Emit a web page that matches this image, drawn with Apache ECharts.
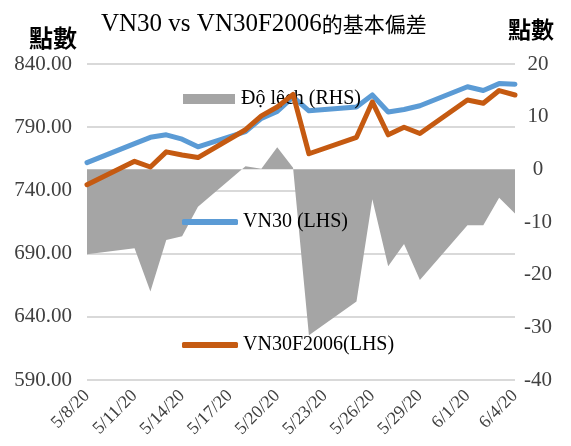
<!DOCTYPE html>
<html>
<head>
<meta charset="utf-8">
<script src="https://cdn.jsdelivr.net/npm/echarts@6/dist/echarts.min.js"></script>
<style>html,body{margin:0;padding:0;background:#fff}#c{width:571px;height:446px}</style>
</head>
<body>
<div id="c"></div>
<script>
const dates = ['2020-05-08','2020-05-11','2020-05-12','2020-05-13','2020-05-14','2020-05-15','2020-05-18','2020-05-19','2020-05-20','2020-05-21','2020-05-22','2020-05-25','2020-05-26','2020-05-27','2020-05-28','2020-05-29','2020-06-01','2020-06-02','2020-06-03','2020-06-04'];
const vn30 = [762, 777, 782, 784, 780.5, 774.5, 786.5, 797, 802.5, 814, 803, 806, 815.5, 802, 804, 807, 822, 819, 824.5, 824];
const vn30f = [744.5, 763, 758.5, 770.5, 768, 766, 788, 799, 806, 816, 769, 782, 810, 784, 790, 785, 811.5, 809, 819, 815.5];
const deviation = [-16.1, -15, -23.2, -13.4, -12.7, -7.1, 0.6, 0.1, 4.2, 0.3, -31.5, -25.1, -5.7, -18.4, -14.2, -21, -10.6, -10.6, -5.4, -8.4];
const tickLabels = ['5/8/20','5/11/20','5/14/20','5/17/20','5/20/20','5/23/20','5/26/20','5/29/20','6/1/20','6/4/20'];
const seriesNames = ['Độ lệch (RHS)', 'VN30 (LHS)', 'VN30F2006(LHS)'];
const titleLatin = 'VN30 vs VN30F2006';
const titleCJK = '的基本偏差';
const axisName = '點數';

const DAY = 86400000;
const t0 = Date.parse(dates[0]);
const dayIdx = dates.map(d => Math.round((Date.parse(d) - t0) / DAY));
const pair = arr => arr.map((v, i) => [dayIdx[i], v]);

const serif = '"Liberation Serif", "Times New Roman", serif';
const chart = echarts.init(document.getElementById('c'), null, {renderer: 'canvas'});
chart.setOption({
  animation: false,
  backgroundColor: '#fff',
  title: {
    text: '{a|' + titleLatin + '}{b|' + titleCJK + '}',
    left: 96, top: 7,
    textStyle: {
      fontWeight: 'normal',
      rich: {
        a: {fontFamily: serif, fontSize: 25, fontWeight: 'normal', color: '#000'},
        b: {fontFamily: '"Noto Sans CJK TC"', fontSize: 21, fontWeight: 'normal', color: '#000'}
      }
    }
  },
  graphic: [
    {type: 'text', left: 29, top: 26, style: {text: axisName, font: 'bold 24px "Noto Sans CJK TC"', fill: '#000'}},
    {type: 'text', left: 508, top: 18, style: {text: axisName, font: 'bold 23px "Noto Sans CJK TC"', fill: '#000'}}
  ],
  legend: [
    {data: [seriesNames[0]], left: 178, top: 84, icon: 'rect', itemWidth: 52, itemHeight: 10, itemGap: 0,
     textStyle: {fontFamily: serif, fontSize: 20, color: '#000', padding: [0,0,0,1]}},
    {data: [seriesNames[1]], left: 177, top: 207, icon: 'roundRect', itemWidth: 56, itemHeight: 6,
     textStyle: {fontFamily: serif, fontSize: 20, color: '#000'}},
    {data: [seriesNames[2]], left: 177, top: 330, icon: 'roundRect', itemWidth: 56, itemHeight: 6,
     textStyle: {fontFamily: serif, fontSize: 20, color: '#000'}}
  ],
  grid: {left: 87, right: 56, top: 64, bottom: 66, containLabel: false},
  xAxis: {
    type: 'value', min: 0, max: 27, interval: 3,
    axisLine: {show: false}, axisTick: {show: false}, splitLine: {show: false},
    axisLabel: {
      rotate: 45, margin: 13, fontFamily: serif, fontSize: 18, color: '#404040',
      formatter: v => tickLabels[Math.round(v / 3)] || ''
    }
  },
  yAxis: [
    {type: 'value', min: 590, max: 840, interval: 50, position: 'left',
     axisLine: {show: false}, axisTick: {show: false},
     splitLine: {lineStyle: {color: '#d9d9d9', width: 2}},
     axisLabel: {margin: 15, fontFamily: serif, fontSize: 21, color: '#404040', formatter: v => v.toFixed(2)}},
    {type: 'value', min: -40, max: 20, interval: 10, position: 'right',
     axisLine: {show: false}, axisTick: {show: false}, splitLine: {show: false},
     axisLabel: {margin: 23, align: 'center', fontFamily: serif, fontSize: 21, color: '#404040'}}
  ],
  series: [
    {name: seriesNames[0], type: 'line', yAxisIndex: 1, data: pair(deviation), color: '#a5a5a5',
     symbol: 'none', lineStyle: {width: 0}, areaStyle: {color: '#a5a5a5', opacity: 1}, z: 1},
    {name: seriesNames[1], type: 'line', yAxisIndex: 0, data: pair(vn30), color: '#5b9bd5',
     symbol: 'none', lineStyle: {width: 5, cap: 'round', join: 'round'}, z: 3},
    {name: seriesNames[2], type: 'line', yAxisIndex: 0, data: pair(vn30f), color: '#c55a11',
     symbol: 'none', lineStyle: {width: 5, cap: 'round', join: 'round'}, z: 4}
  ]
});
</script>
</body>
</html>
